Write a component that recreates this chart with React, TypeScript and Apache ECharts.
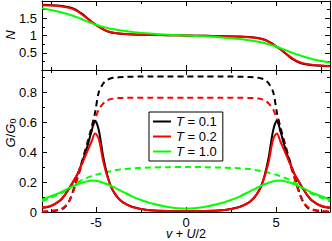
import React, { useEffect, useRef } from "react";
import * as echarts from "echarts";

// ---------- data ----------
const X_N = [-8, -7.5, -7, -6.5, -6.25, -6, -5.75, -5.5, -5.25, -5, -4.75, -4.5, -4.25, -4, -3.5, -3, -2, -1, 0, 1, 2, 3, 3.5, 4, 4.25, 4.5, 4.75, 5, 5.25, 5.5, 5.75, 6, 6.25, 6.5, 7, 7.5, 8];
const N_T01 = [1.89, 1.88, 1.86, 1.82, 1.775, 1.71, 1.62, 1.51, 1.4, 1.31, 1.22, 1.15, 1.1, 1.07, 1.045, 1.03, 1.018, 1.009, 1.0, 0.991, 0.982, 0.97, 0.955, 0.93, 0.9, 0.85, 0.78, 0.69, 0.6, 0.49, 0.38, 0.29, 0.225, 0.18, 0.14, 0.12, 0.11];
const N_T02 = [1.88, 1.868, 1.848, 1.805, 1.76, 1.69, 1.6, 1.5, 1.4, 1.31, 1.23, 1.16, 1.11, 1.08, 1.05, 1.035, 1.02, 1.01, 1.0, 0.99, 0.98, 0.965, 0.95, 0.92, 0.89, 0.84, 0.77, 0.68, 0.6, 0.5, 0.4, 0.31, 0.245, 0.195, 0.155, 0.132, 0.118];
const N_T10 = [1.79, 1.74, 1.68, 1.61, 1.565, 1.52, 1.465, 1.41, 1.36, 1.31, 1.27, 1.235, 1.205, 1.18, 1.14, 1.105, 1.055, 1.02, 1.0, 0.98, 0.945, 0.9, 0.865, 0.82, 0.795, 0.76, 0.72, 0.68, 0.63, 0.58, 0.53, 0.48, 0.44, 0.39, 0.32, 0.26, 0.22];

const X_G = [-8, -7.5, -7, -6.75, -6.5, -6.25, -6, -5.75, -5.5, -5.25, -5.05, -4.85, -4.6, -4.4, -4.2, -4, -3.75, -3.5, -3, -2.5, -2, -1, 0, 1, 2, 2.5, 3, 3.5, 3.75, 4, 4.2, 4.4, 4.6, 4.85, 5.05, 5.25, 5.5, 5.75, 6, 6.25, 6.5, 6.75, 7, 7.5, 8];
const G_T01 = [0.028, 0.04, 0.075, 0.11, 0.155, 0.205, 0.26, 0.34, 0.43, 0.54, 0.61, 0.55, 0.37, 0.26, 0.18, 0.13, 0.09, 0.065, 0.035, 0.02, 0.012, 0.006, 0.005, 0.006, 0.012, 0.02, 0.035, 0.065, 0.09, 0.13, 0.18, 0.26, 0.37, 0.55, 0.61, 0.54, 0.43, 0.34, 0.26, 0.205, 0.155, 0.11, 0.075, 0.04, 0.028];
const G_T02 = [0.03, 0.042, 0.078, 0.112, 0.157, 0.207, 0.26, 0.33, 0.4, 0.47, 0.525, 0.49, 0.34, 0.25, 0.18, 0.133, 0.092, 0.065, 0.034, 0.02, 0.012, 0.007, 0.006, 0.007, 0.012, 0.02, 0.034, 0.065, 0.092, 0.133, 0.18, 0.25, 0.34, 0.49, 0.525, 0.47, 0.4, 0.33, 0.26, 0.207, 0.157, 0.112, 0.078, 0.042, 0.03];
const G_T10 = [0.083, 0.105, 0.13, 0.145, 0.16, 0.174, 0.187, 0.197, 0.205, 0.21, 0.209, 0.206, 0.196, 0.187, 0.177, 0.166, 0.15, 0.135, 0.105, 0.08, 0.06, 0.034, 0.023, 0.034, 0.06, 0.08, 0.105, 0.135, 0.15, 0.166, 0.177, 0.187, 0.196, 0.206, 0.209, 0.21, 0.205, 0.197, 0.187, 0.174, 0.16, 0.145, 0.13, 0.105, 0.083];
const GD_T01 = [0.002, 0.005, 0.015, 0.03, 0.07, 0.15, 0.25, 0.35, 0.455, 0.565, 0.665, 0.8, 0.86, 0.882, 0.893, 0.898, 0.901, 0.903, 0.905, 0.906, 0.906, 0.906, 0.906, 0.906, 0.906, 0.906, 0.905, 0.903, 0.901, 0.898, 0.893, 0.882, 0.86, 0.8, 0.665, 0.565, 0.455, 0.35, 0.25, 0.15, 0.07, 0.03, 0.015, 0.005, 0.002];
const GD_T02 = [0.003, 0.007, 0.018, 0.035, 0.07, 0.14, 0.235, 0.33, 0.44, 0.54, 0.62, 0.685, 0.725, 0.745, 0.755, 0.759, 0.762, 0.763, 0.764, 0.764, 0.764, 0.764, 0.764, 0.764, 0.764, 0.764, 0.764, 0.763, 0.762, 0.759, 0.755, 0.745, 0.725, 0.685, 0.62, 0.54, 0.44, 0.33, 0.235, 0.14, 0.07, 0.035, 0.018, 0.007, 0.003];
const GD_T10 = [0.072, 0.096, 0.122, 0.138, 0.158, 0.18, 0.2, 0.215, 0.228, 0.24, 0.248, 0.254, 0.262, 0.268, 0.273, 0.278, 0.283, 0.287, 0.292, 0.295, 0.297, 0.3, 0.301, 0.3, 0.297, 0.295, 0.292, 0.287, 0.283, 0.278, 0.273, 0.268, 0.262, 0.254, 0.248, 0.24, 0.228, 0.215, 0.2, 0.18, 0.158, 0.138, 0.122, 0.096, 0.072];

const LEGEND_NAMES = ["T = 0.1", "T = 0.2", "T = 1.0"];
const X_MAJOR = [-5, 0, 5];
const X_MINOR = [-7.5, -2.5, 2.5, 7.5];

const FONT = "Liberation Sans, Arial, Helvetica, sans-serif";
const BLACK = "#000000";
const RED = "#ff0000";
const GREEN = "#00ff00";

const pairs = (xs: number[], ys: number[]) => xs.map((x, i) => [x, ys[i]]);

function xAxisDef(gridIndex: number, position: string, minor: boolean, labels: boolean) {
  return {
    type: "value",
    gridIndex,
    position,
    min: -8,
    max: 8,
    axisLine: { show: !minor, onZero: false, lineStyle: { color: BLACK, width: 1 } },
    axisTick: {
      show: true,
      inside: true,
      length: minor ? 3 : 5,
      customValues: minor ? X_MINOR : X_MAJOR,
      lineStyle: { color: BLACK, width: 1 },
    },
    axisLabel: labels
      ? { show: true, customValues: X_MAJOR, margin: 4, fontSize: 13, lineHeight: 12, color: BLACK, fontFamily: FONT, formatter: (v: number) => String(v) }
      : { show: false },
    splitLine: { show: false },
  };
}

function yAxisDef(gridIndex: number, position: string, max: number, interval: number, labels: boolean, fmt: (v: number) => string) {
  return {
    type: "value",
    gridIndex,
    position,
    min: 0,
    max,
    interval,
    axisLine: { show: true, onZero: false, lineStyle: { color: BLACK, width: 1 } },
    axisTick: { show: true, inside: true, length: 5, lineStyle: { color: BLACK, width: 1 } },
    minorTick: { show: true, splitNumber: 2, length: 3, lineStyle: { color: BLACK, width: 1 } },
    axisLabel: labels
      ? { show: true, margin: 5, fontSize: 13, color: BLACK, fontFamily: FONT, showMinLabel: gridIndex === 1, showMaxLabel: false, formatter: fmt }
      : { show: false },
    splitLine: { show: false },
    minorSplitLine: { show: false },
  };
}

function line(name: string, xi: number, yi: number, data: number[][], color: string, dashed: boolean) {
  return {
    type: "line",
    name,
    xAxisIndex: xi,
    yAxisIndex: yi,
    data,
    smooth: 0.3,
    showSymbol: false,
    symbol: "none",
    lineStyle: { color, width: 2, type: dashed ? [6, 4] : "solid" },
    itemStyle: { color },
    z: 3,
  };
}

export default function App() {
  const ref = useRef<HTMLDivElement>(null);
  useEffect(() => {
    if (!ref.current) return;
    const chart = echarts.init(ref.current, null, { renderer: "svg" });
    const fmtTop = (v: number) => String(v);
    const fmtBot = (v: number) => (v === 0 ? "0" : v.toFixed(1));
    chart.setOption({
      animation: false,
      backgroundColor: "#ffffff",
      textStyle: { fontFamily: FONT },
      grid: [
        { left: 42, right: 2, top: 1, height: 69, containLabel: false },
        { left: 42, right: 2, top: 70, bottom: 29, containLabel: false },
      ],
      xAxis: [
        xAxisDef(0, "bottom", false, false),
        xAxisDef(0, "bottom", true, false),
        xAxisDef(0, "top", false, false),
        xAxisDef(0, "top", true, false),
        xAxisDef(1, "bottom", false, true),
        xAxisDef(1, "bottom", true, false),
        xAxisDef(1, "top", false, false),
        xAxisDef(1, "top", true, false),
      ],
      yAxis: [
        yAxisDef(0, "left", 2, 0.5, true, fmtTop),
        yAxisDef(0, "right", 2, 0.5, false, fmtTop),
        yAxisDef(1, "left", 0.95, 0.2, true, fmtBot),
        yAxisDef(1, "right", 0.95, 0.2, false, fmtBot),
      ],
      legend: {
        data: LEGEND_NAMES,
        orient: "vertical",
        left: 149,
        top: 112,
        icon: "path://M0 0H18V2H0Z",
        symbolKeepAspect: true,
        itemWidth: 18,
        itemHeight: 12,
        itemGap: 2,
        padding: [3, 6, 3, 4],
        borderColor: BLACK,
        borderWidth: 1,
        borderRadius: 0,
        backgroundColor: "#ffffff",
        selectedMode: false,
        textStyle: {
          fontSize: 13,
          color: BLACK,
          fontFamily: FONT,
          rich: { i: { fontStyle: "italic", fontSize: 13, fontFamily: FONT, color: BLACK } },
        },
        formatter: (name: string) => "{i|T}" + name.slice(1),
      },
      graphic: [
        {
          type: "text",
          x: 10,
          y: 35,
          rotation: Math.PI / 2,
          style: { text: "N", fontSize: 13, fontStyle: "italic", fontFamily: FONT, fill: BLACK, align: "center", verticalAlign: "middle" },
        },
        {
          type: "text",
          x: 10,
          y: 133,
          rotation: Math.PI / 2,
          style: {
            text: "{i|G}/{i|G}{s|0}",
            fontSize: 13,
            fontFamily: FONT,
            fill: BLACK,
            align: "center",
            verticalAlign: "middle",
            rich: {
              i: { fontStyle: "italic", fontSize: 13, fontFamily: FONT, fill: BLACK },
              s: { fontSize: 9, fontFamily: FONT, fill: BLACK, padding: [6, 0, 0, 0] },
            },
          },
        },
        {
          type: "text",
          x: 186,
          y: 234,
          style: {
            text: "{i|v} + {i|U}/2",
            fontSize: 12.5,
            lineHeight: 11,
            fontFamily: FONT,
            fill: BLACK,
            align: "center",
            verticalAlign: "middle",
            rich: { i: { fontStyle: "italic", fontSize: 12.5, lineHeight: 11, fontFamily: FONT, fill: BLACK } },
          },
        },
      ],
      series: [
        line("N01", 0, 0, pairs(X_N, N_T01), BLACK, false),
        line("N02", 0, 0, pairs(X_N, N_T02), RED, false),
        line("N10", 0, 0, pairs(X_N, N_T10), GREEN, false),
        line("GD01", 4, 2, pairs(X_G, GD_T01), BLACK, true),
        line("GD02", 4, 2, pairs(X_G, GD_T02), RED, true),
        line("GD10", 4, 2, pairs(X_G, GD_T10), GREEN, true),
        line(LEGEND_NAMES[0], 4, 2, pairs(X_G, G_T01), BLACK, false),
        line(LEGEND_NAMES[1], 4, 2, pairs(X_G, G_T02), RED, false),
        line(LEGEND_NAMES[2], 4, 2, pairs(X_G, G_T10), GREEN, false),
      ],
    });
    return () => chart.dispose();
  }, []);
  return <div ref={ref} style={{ width: 332, height: 241, position: "absolute", left: 0, top: 0 }} />;
}
